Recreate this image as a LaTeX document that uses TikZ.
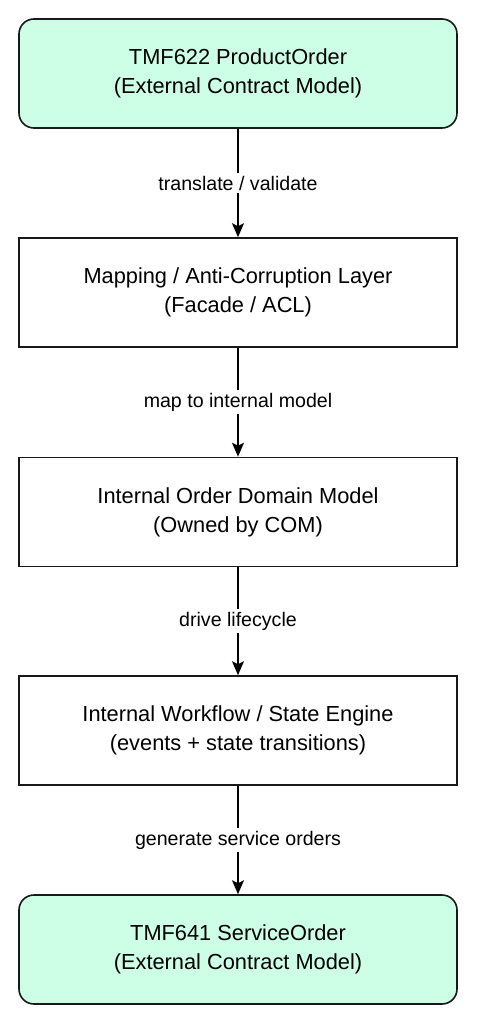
\documentclass[tikz,border=0pt]{standalone}
\usepackage{fontspec}
\setmainfont{Liberation Sans}
\usetikzlibrary{arrows.meta}
\definecolor{boxgreen}{HTML}{CCFFE6}
\tikzset{
  x=1pt,y=-1pt,
  stepbox/.style={draw=black!90,line width=1.6pt,minimum width=438pt,minimum height=109pt,align=center,font=\fontsize{21.8}{29}\selectfont,fill=white},
  extbox/.style={stepbox,fill=boxgreen,rounded corners=15pt},
  conn/.style={line width=1.6pt,-{Stealth[length=14pt,width=12pt,inset=3pt]}},
  lbl/.style={fill=white,font=\fontsize{19.6}{22}\selectfont,inner sep=3pt}
}
\begin{document}
\begin{tikzpicture}
\useasboundingbox (0,0) rectangle (476,1024);
\node[extbox] (a) at (238,73.5) {TMF622 ProductOrder\\(External Contract Model)};
\node[stepbox] (b) at (238,292.5) {Mapping / Anti-Corruption Layer\\(Facade / ACL)};
\node[stepbox] (c) at (238,512) {Internal Order Domain Model\\(Owned by COM)};
\node[stepbox] (d) at (238,730.5) {Internal Workflow / State Engine\\(events + state transitions)};
\node[extbox] (e) at (238,949.5) {TMF641 ServiceOrder\\(External Contract Model)};
\draw[conn] (a) -- node[lbl]{translate / validate} (b);
\draw[conn] (b) -- node[lbl]{map to internal model} (c);
\draw[conn] (c) -- node[lbl]{drive lifecycle} (d);
\draw[conn] (d) -- node[lbl]{generate service orders} (e);
\end{tikzpicture}
\end{document}
